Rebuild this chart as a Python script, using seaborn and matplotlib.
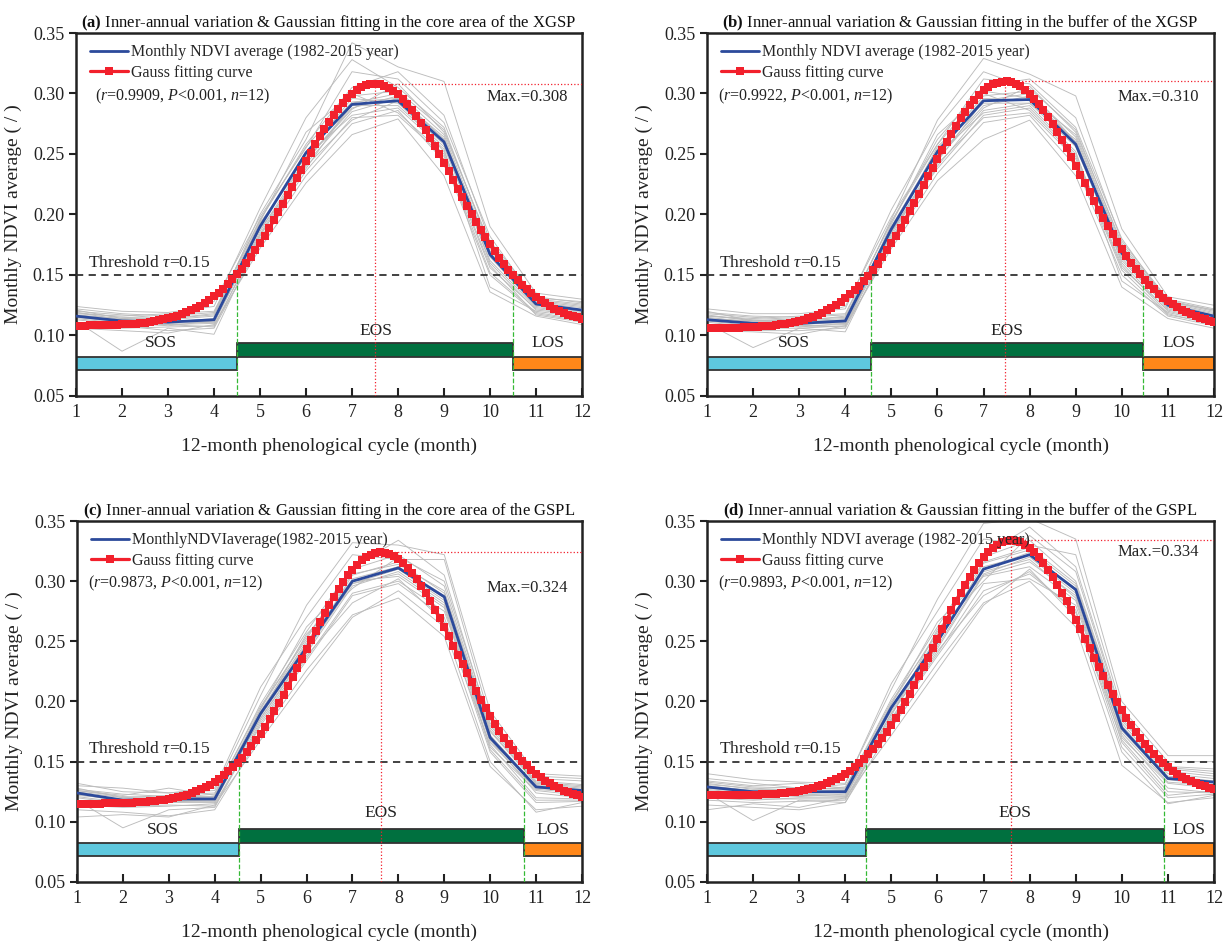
import numpy as np
import pandas as pd
import matplotlib
matplotlib.use("Agg")
import matplotlib.pyplot as plt
import seaborn as sns

# ---------------- data ----------------
months = list(range(1, 13))

titles = [
    r"$\mathbf{(a)}$ Inner-annual variation & Gaussian fitting in the core area of the XGSP",
    r"$\mathbf{(b)}$ Inner-annual variation & Gaussian fitting in the buffer of the XGSP",
    r"$\mathbf{(c)}$ Inner-annual variation & Gaussian fitting in the core area of the GSPL",
    r"$\mathbf{(d)}$ Inner-annual variation & Gaussian fitting in the buffer of the GSPL",
]
avg_labels = [
    "Monthly NDVI average (1982-2015 year)",
    "Monthly NDVI average (1982-2015 year)",
    "MonthlyNDVIaverage(1982-2015 year)",
    "Monthly NDVI average (1982-2015 year)",
]
stat_labels = [
    r"  ($\mathit{r}$=0.9909, $\mathit{P}$<0.001, $\mathit{n}$=12)",
    r"($\mathit{r}$=0.9922, $\mathit{P}$<0.001, $\mathit{n}$=12)",
    r"($\mathit{r}$=0.9873, $\mathit{P}$<0.001, $\mathit{n}$=12)",
    r"($\mathit{r}$=0.9893, $\mathit{P}$<0.001, $\mathit{n}$=12)",
]
max_labels = ["Max.=0.308", "Max.=0.310", "Max.=0.324", "Max.=0.334"]
max_values = [0.308, 0.310, 0.324, 0.334]

avg_a = [0.116, 0.112, 0.111, 0.113, 0.190, 0.251, 0.291, 0.294, 0.260, 0.167, 0.126, 0.121]
avg_b = [0.113, 0.110, 0.110, 0.112, 0.188, 0.252, 0.294, 0.295, 0.258, 0.168, 0.125, 0.116]
avg_c = [0.124, 0.118, 0.119, 0.119, 0.190, 0.245, 0.300, 0.311, 0.287, 0.170, 0.129, 0.126]
avg_d = [0.129, 0.125, 0.125, 0.125, 0.195, 0.250, 0.310, 0.322, 0.293, 0.178, 0.136, 0.133]

# Gaussian fit parameters (baseline, amplitude, centre, width)
fit_base = [0.108, 0.106, 0.115, 0.122]
fit_amp = [0.200, 0.204, 0.209, 0.212]
fit_center = [7.49, 7.46, 7.62, 7.60]
fit_width = [1.70, 1.684, 1.64, 1.62]

sos = [4.51, 4.55, 4.53, 4.44]
los = [10.51, 10.46, 10.73, 10.92]

years_a = [
    [0.121, 0.114, 0.113, 0.116, 0.200, 0.262, 0.342, 0.322, 0.310, 0.190, 0.135, 0.130],
    [0.112, 0.087, 0.106, 0.101, 0.182, 0.242, 0.285, 0.296, 0.262, 0.165, 0.124, 0.120],
    [0.118, 0.116, 0.118, 0.120, 0.195, 0.258, 0.305, 0.318, 0.282, 0.178, 0.132, 0.127],
    [0.110, 0.108, 0.104, 0.106, 0.176, 0.232, 0.275, 0.286, 0.244, 0.150, 0.118, 0.112],
    [0.124, 0.120, 0.119, 0.124, 0.205, 0.280, 0.328, 0.305, 0.272, 0.172, 0.130, 0.126],
    [0.106, 0.104, 0.102, 0.109, 0.172, 0.226, 0.266, 0.279, 0.232, 0.136, 0.116, 0.109],
    [0.117, 0.112, 0.111, 0.114, 0.190, 0.250, 0.296, 0.292, 0.258, 0.168, 0.126, 0.121],
    [0.119, 0.113, 0.115, 0.128, 0.198, 0.255, 0.318, 0.312, 0.276, 0.182, 0.128, 0.124],
    [0.114, 0.110, 0.109, 0.110, 0.186, 0.246, 0.288, 0.298, 0.262, 0.160, 0.121, 0.117],
    [0.115, 0.111, 0.108, 0.112, 0.192, 0.248, 0.282, 0.288, 0.254, 0.140, 0.120, 0.115],
    [0.120, 0.117, 0.114, 0.117, 0.188, 0.238, 0.292, 0.300, 0.266, 0.170, 0.127, 0.123],
    [0.113, 0.109, 0.112, 0.111, 0.194, 0.268, 0.300, 0.284, 0.250, 0.156, 0.122, 0.118],
    [0.116, 0.113, 0.110, 0.111, 0.184, 0.244, 0.290, 0.290, 0.256, 0.162, 0.123, 0.119],
    [0.122, 0.118, 0.116, 0.119, 0.196, 0.256, 0.298, 0.302, 0.270, 0.174, 0.129, 0.125],
    [0.108, 0.106, 0.107, 0.108, 0.180, 0.236, 0.280, 0.282, 0.248, 0.152, 0.119, 0.113],
    [0.117, 0.114, 0.112, 0.113, 0.189, 0.252, 0.293, 0.296, 0.264, 0.166, 0.125, 0.120],
    [0.119, 0.115, 0.114, 0.118, 0.193, 0.245, 0.287, 0.308, 0.268, 0.176, 0.131, 0.128],
    [0.111, 0.108, 0.109, 0.107, 0.183, 0.240, 0.278, 0.294, 0.252, 0.158, 0.117, 0.111],
]
years_b = [
    [0.120, 0.112, 0.112, 0.114, 0.196, 0.278, 0.329, 0.316, 0.298, 0.188, 0.132, 0.125],
    [0.110, 0.090, 0.106, 0.103, 0.180, 0.240, 0.286, 0.292, 0.256, 0.164, 0.122, 0.114],
    [0.116, 0.114, 0.116, 0.118, 0.194, 0.262, 0.306, 0.312, 0.280, 0.178, 0.130, 0.122],
    [0.106, 0.104, 0.104, 0.106, 0.176, 0.234, 0.276, 0.282, 0.240, 0.150, 0.116, 0.108],
    [0.122, 0.118, 0.118, 0.122, 0.204, 0.272, 0.318, 0.304, 0.270, 0.174, 0.128, 0.121],
    [0.104, 0.103, 0.101, 0.108, 0.172, 0.228, 0.262, 0.278, 0.232, 0.140, 0.114, 0.106],
    [0.114, 0.110, 0.110, 0.112, 0.188, 0.252, 0.296, 0.294, 0.258, 0.168, 0.125, 0.116],
    [0.117, 0.112, 0.114, 0.124, 0.198, 0.258, 0.312, 0.308, 0.272, 0.180, 0.127, 0.119],
    [0.112, 0.108, 0.108, 0.109, 0.184, 0.248, 0.290, 0.298, 0.260, 0.160, 0.120, 0.112],
    [0.113, 0.110, 0.107, 0.110, 0.190, 0.250, 0.284, 0.290, 0.252, 0.145, 0.119, 0.111],
    [0.118, 0.115, 0.113, 0.115, 0.186, 0.244, 0.294, 0.300, 0.264, 0.170, 0.126, 0.118],
    [0.111, 0.107, 0.111, 0.110, 0.192, 0.266, 0.300, 0.286, 0.248, 0.156, 0.121, 0.113],
    [0.115, 0.111, 0.109, 0.111, 0.186, 0.256, 0.292, 0.292, 0.262, 0.166, 0.124, 0.117],
    [0.119, 0.116, 0.115, 0.117, 0.194, 0.258, 0.302, 0.296, 0.266, 0.172, 0.128, 0.120],
    [0.108, 0.106, 0.106, 0.108, 0.180, 0.242, 0.280, 0.284, 0.246, 0.154, 0.117, 0.110],
    [0.114, 0.112, 0.111, 0.113, 0.190, 0.254, 0.298, 0.302, 0.260, 0.162, 0.123, 0.115],
    [0.116, 0.113, 0.112, 0.116, 0.182, 0.246, 0.288, 0.306, 0.268, 0.176, 0.129, 0.121],
    [0.109, 0.107, 0.108, 0.107, 0.186, 0.238, 0.282, 0.288, 0.250, 0.158, 0.118, 0.109],
]
years_c = [
    [0.132, 0.125, 0.124, 0.126, 0.205, 0.280, 0.332, 0.330, 0.322, 0.192, 0.140, 0.138],
    [0.118, 0.095, 0.110, 0.112, 0.182, 0.236, 0.290, 0.300, 0.275, 0.168, 0.124, 0.120],
    [0.126, 0.122, 0.128, 0.122, 0.198, 0.258, 0.312, 0.334, 0.305, 0.180, 0.136, 0.134],
    [0.110, 0.108, 0.105, 0.110, 0.172, 0.226, 0.272, 0.286, 0.254, 0.146, 0.110, 0.113],
    [0.130, 0.128, 0.124, 0.128, 0.212, 0.270, 0.322, 0.318, 0.318, 0.185, 0.138, 0.136],
    [0.104, 0.106, 0.104, 0.114, 0.168, 0.220, 0.270, 0.292, 0.262, 0.150, 0.108, 0.116],
    [0.124, 0.118, 0.119, 0.120, 0.190, 0.246, 0.302, 0.312, 0.288, 0.172, 0.130, 0.127],
    [0.128, 0.120, 0.122, 0.124, 0.196, 0.252, 0.310, 0.322, 0.296, 0.178, 0.134, 0.131],
    [0.121, 0.116, 0.117, 0.117, 0.186, 0.240, 0.296, 0.308, 0.282, 0.166, 0.127, 0.124],
    [0.122, 0.119, 0.118, 0.118, 0.192, 0.250, 0.298, 0.306, 0.280, 0.162, 0.126, 0.122],
    [0.126, 0.121, 0.120, 0.123, 0.188, 0.244, 0.305, 0.316, 0.290, 0.175, 0.132, 0.129],
    [0.116, 0.114, 0.116, 0.116, 0.194, 0.262, 0.300, 0.304, 0.278, 0.160, 0.118, 0.118],
    [0.123, 0.117, 0.116, 0.119, 0.186, 0.242, 0.298, 0.310, 0.284, 0.170, 0.128, 0.125],
    [0.127, 0.123, 0.121, 0.121, 0.194, 0.254, 0.306, 0.314, 0.292, 0.176, 0.133, 0.130],
    [0.114, 0.112, 0.113, 0.115, 0.180, 0.234, 0.288, 0.298, 0.270, 0.158, 0.116, 0.117],
    [0.125, 0.120, 0.119, 0.121, 0.191, 0.248, 0.300, 0.312, 0.286, 0.168, 0.129, 0.126],
    [0.120, 0.115, 0.118, 0.118, 0.189, 0.256, 0.294, 0.320, 0.300, 0.182, 0.131, 0.128],
    [0.117, 0.113, 0.114, 0.113, 0.184, 0.238, 0.282, 0.302, 0.266, 0.164, 0.120, 0.119],
]
years_d = [
    [0.140, 0.135, 0.133, 0.132, 0.210, 0.285, 0.348, 0.352, 0.335, 0.200, 0.155, 0.155],
    [0.124, 0.101, 0.118, 0.116, 0.185, 0.240, 0.298, 0.302, 0.280, 0.172, 0.128, 0.124],
    [0.134, 0.130, 0.132, 0.128, 0.202, 0.262, 0.322, 0.345, 0.312, 0.190, 0.145, 0.142],
    [0.114, 0.112, 0.110, 0.116, 0.178, 0.232, 0.282, 0.300, 0.262, 0.147, 0.116, 0.120],
    [0.136, 0.132, 0.128, 0.131, 0.215, 0.275, 0.335, 0.330, 0.322, 0.194, 0.150, 0.150],
    [0.110, 0.115, 0.112, 0.120, 0.172, 0.226, 0.280, 0.310, 0.270, 0.158, 0.115, 0.122],
    [0.129, 0.125, 0.125, 0.126, 0.196, 0.250, 0.312, 0.322, 0.294, 0.180, 0.138, 0.134],
    [0.132, 0.127, 0.127, 0.128, 0.200, 0.256, 0.320, 0.334, 0.300, 0.186, 0.142, 0.138],
    [0.126, 0.122, 0.123, 0.122, 0.190, 0.244, 0.305, 0.316, 0.288, 0.174, 0.133, 0.130],
    [0.128, 0.124, 0.124, 0.124, 0.194, 0.254, 0.308, 0.318, 0.286, 0.170, 0.132, 0.128],
    [0.131, 0.128, 0.126, 0.129, 0.192, 0.248, 0.315, 0.326, 0.296, 0.182, 0.140, 0.136],
    [0.120, 0.118, 0.120, 0.120, 0.198, 0.266, 0.304, 0.312, 0.284, 0.166, 0.122, 0.126],
    [0.127, 0.123, 0.121, 0.123, 0.190, 0.246, 0.306, 0.320, 0.290, 0.176, 0.135, 0.131],
    [0.133, 0.129, 0.128, 0.127, 0.198, 0.258, 0.316, 0.328, 0.298, 0.184, 0.144, 0.140],
    [0.118, 0.116, 0.117, 0.118, 0.184, 0.238, 0.292, 0.306, 0.276, 0.162, 0.120, 0.123],
    [0.130, 0.126, 0.125, 0.126, 0.195, 0.252, 0.310, 0.324, 0.292, 0.178, 0.137, 0.133],
    [0.125, 0.121, 0.122, 0.121, 0.188, 0.260, 0.300, 0.338, 0.308, 0.188, 0.146, 0.144],
    [0.122, 0.119, 0.119, 0.119, 0.186, 0.242, 0.288, 0.308, 0.274, 0.168, 0.125, 0.124],
]

threshold = 0.15
y_ticks = [0.05, 0.10, 0.15, 0.20, 0.25, 0.30, 0.35]

avgs = [avg_a, avg_b, avg_c, avg_d]
years_all = [years_a, years_b, years_c, years_d]
eos_text_y = [0.1035, 0.1035, 0.1075, 0.1075]
max_text_y = [0.297, 0.297, 0.2945, 0.324]

# ---------------- style ----------------
sns.set_theme(style="ticks")
plt.rcParams["font.family"] = ["Liberation Serif", "DejaVu Serif"]
plt.rcParams["mathtext.fontset"] = "custom"
plt.rcParams["mathtext.rm"] = "Liberation Serif"
plt.rcParams["mathtext.it"] = "Liberation Serif:italic"
plt.rcParams["mathtext.bf"] = "Liberation Serif:bold"

BLUE = "#2c4a9b"
RED = "#f2202c"
GRAY = "#bcbcbc"
CYAN = "#5ec8de"
GREEN = "#00703f"
ORANGE = "#ff8719"
EDGE = "#333333"

fig = plt.figure(figsize=(12.26, 9.43), dpi=100)
positions = [
    [0.0620, 0.5801, 0.4127, 0.3849],
    [0.5767, 0.5801, 0.4135, 0.3849],
    [0.0628, 0.0647, 0.4119, 0.3828],
    [0.5767, 0.0647, 0.4135, 0.3828],
]

for i in range(4):
    ax = fig.add_axes(positions[i])
    ax.set_facecolor("white")

    # yearly curves
    rows = []
    for yi, vals in enumerate(years_all[i]):
        for m, v in zip(months, vals):
            rows.append({"year": yi, "month": m, "ndvi": v})
    df = pd.DataFrame(rows)
    sns.lineplot(data=df, x="month", y="ndvi", units="year", estimator=None,
                 color=GRAY, lw=0.65, ax=ax, legend=False, zorder=1)

    # stage bars
    bar_h = 0.0112
    ax.barh(0.0768, sos[i] - 1, left=1, height=bar_h, color=CYAN,
            edgecolor=EDGE, linewidth=1.3, zorder=2, align="center")
    ax.barh(0.0882, los[i] - sos[i], left=sos[i], height=bar_h, color=GREEN,
            edgecolor=EDGE, linewidth=1.3, zorder=2, align="center")
    ax.barh(0.0768, 12 - los[i], left=los[i], height=bar_h, color=ORANGE,
            edgecolor=EDGE, linewidth=1.3, zorder=2, align="center")

    # threshold & guides
    ax.axhline(threshold, color="#333333", ls=(0, (4, 3)), lw=1.3, zorder=3)
    ax.vlines([sos[i], los[i]], 0.05, threshold, colors="#35b935", linestyles="--",
              lw=0.9, zorder=3)
    ax.vlines(fit_center[i], 0.05, max_values[i], colors=RED, linestyles=":",
              lw=0.9, zorder=3)
    ax.hlines(max_values[i], fit_center[i], 12, colors=RED, linestyles=":",
              lw=0.9, zorder=3)

    # mean curve
    sns.lineplot(x=months, y=avgs[i], color=BLUE, lw=2.0, ax=ax,
                 label=avg_labels[i], zorder=4)

    # gaussian fit
    xf = np.round(np.arange(1, 12.0001, 0.1), 2)
    yf = fit_base[i] + fit_amp[i] * np.exp(-(xf - fit_center[i]) ** 2 / (2 * fit_width[i] ** 2))
    sns.lineplot(x=xf, y=yf, color=RED, lw=2.3, marker="s", markersize=6,
                 markeredgewidth=0, ax=ax, label="Gauss fitting curve", zorder=5)

    # texts
    ax.text(1.25, 0.1535, r"Threshold $\tau$=0.15", fontsize=12.5, ha="left",
            va="bottom", color="#222222", zorder=6)
    ax.text((1 + sos[i]) / 2 + 0.1, 0.0935, "SOS", fontsize=12.5, ha="center",
            va="center", color="#222222")
    ax.text((sos[i] + los[i]) / 2, eos_text_y[i], "EOS", fontsize=12.5,
            ha="center", va="center", color="#222222")
    ax.text((los[i] + 12) / 2, 0.0935, "LOS", fontsize=12.5, ha="center",
            va="center", color="#222222")
    ax.text(10.8, max_text_y[i], max_labels[i], fontsize=12, ha="center",
            va="center", color="#222222")

    ax.legend(loc="upper left", bbox_to_anchor=(0.005, 1.0), frameon=False,
              fontsize=11.5, handlelength=2.4, handletextpad=0.2,
              labelspacing=0.3, borderaxespad=0.3, numpoints=1)
    ax.text(0.022, 0.826, stat_labels[i], transform=ax.transAxes, fontsize=11.5,
            ha="left", va="center", color="#222222")

    ax.set_xlim(1, 12)
    ax.set_ylim(0.05, 0.35)
    ax.set_xticks(months)
    ax.set_yticks(y_ticks)
    ax.set_yticklabels([f"{t:.2f}" for t in y_ticks])
    ax.tick_params(axis="x", direction="in", length=6, width=1.5, labelsize=13,
                   pad=6, colors="#222222")
    ax.tick_params(axis="y", direction="out", length=5, width=1.5, labelsize=13,
                   colors="#222222")
    for sp in ax.spines.values():
        sp.set_visible(True)
        sp.set_linewidth(1.8)
        sp.set_color("#222222")
    ax.set_xlabel("12-month phenological cycle (month)", fontsize=14,
                  labelpad=12, color="#222222")
    ax.set_ylabel("Monthly NDVI average ( / )", fontsize=14, labelpad=8,
                  color="#222222")
    ax.set_title(titles[i], fontsize=12, pad=4, color="#111111")

fig.savefig("out.png", dpi=100)
